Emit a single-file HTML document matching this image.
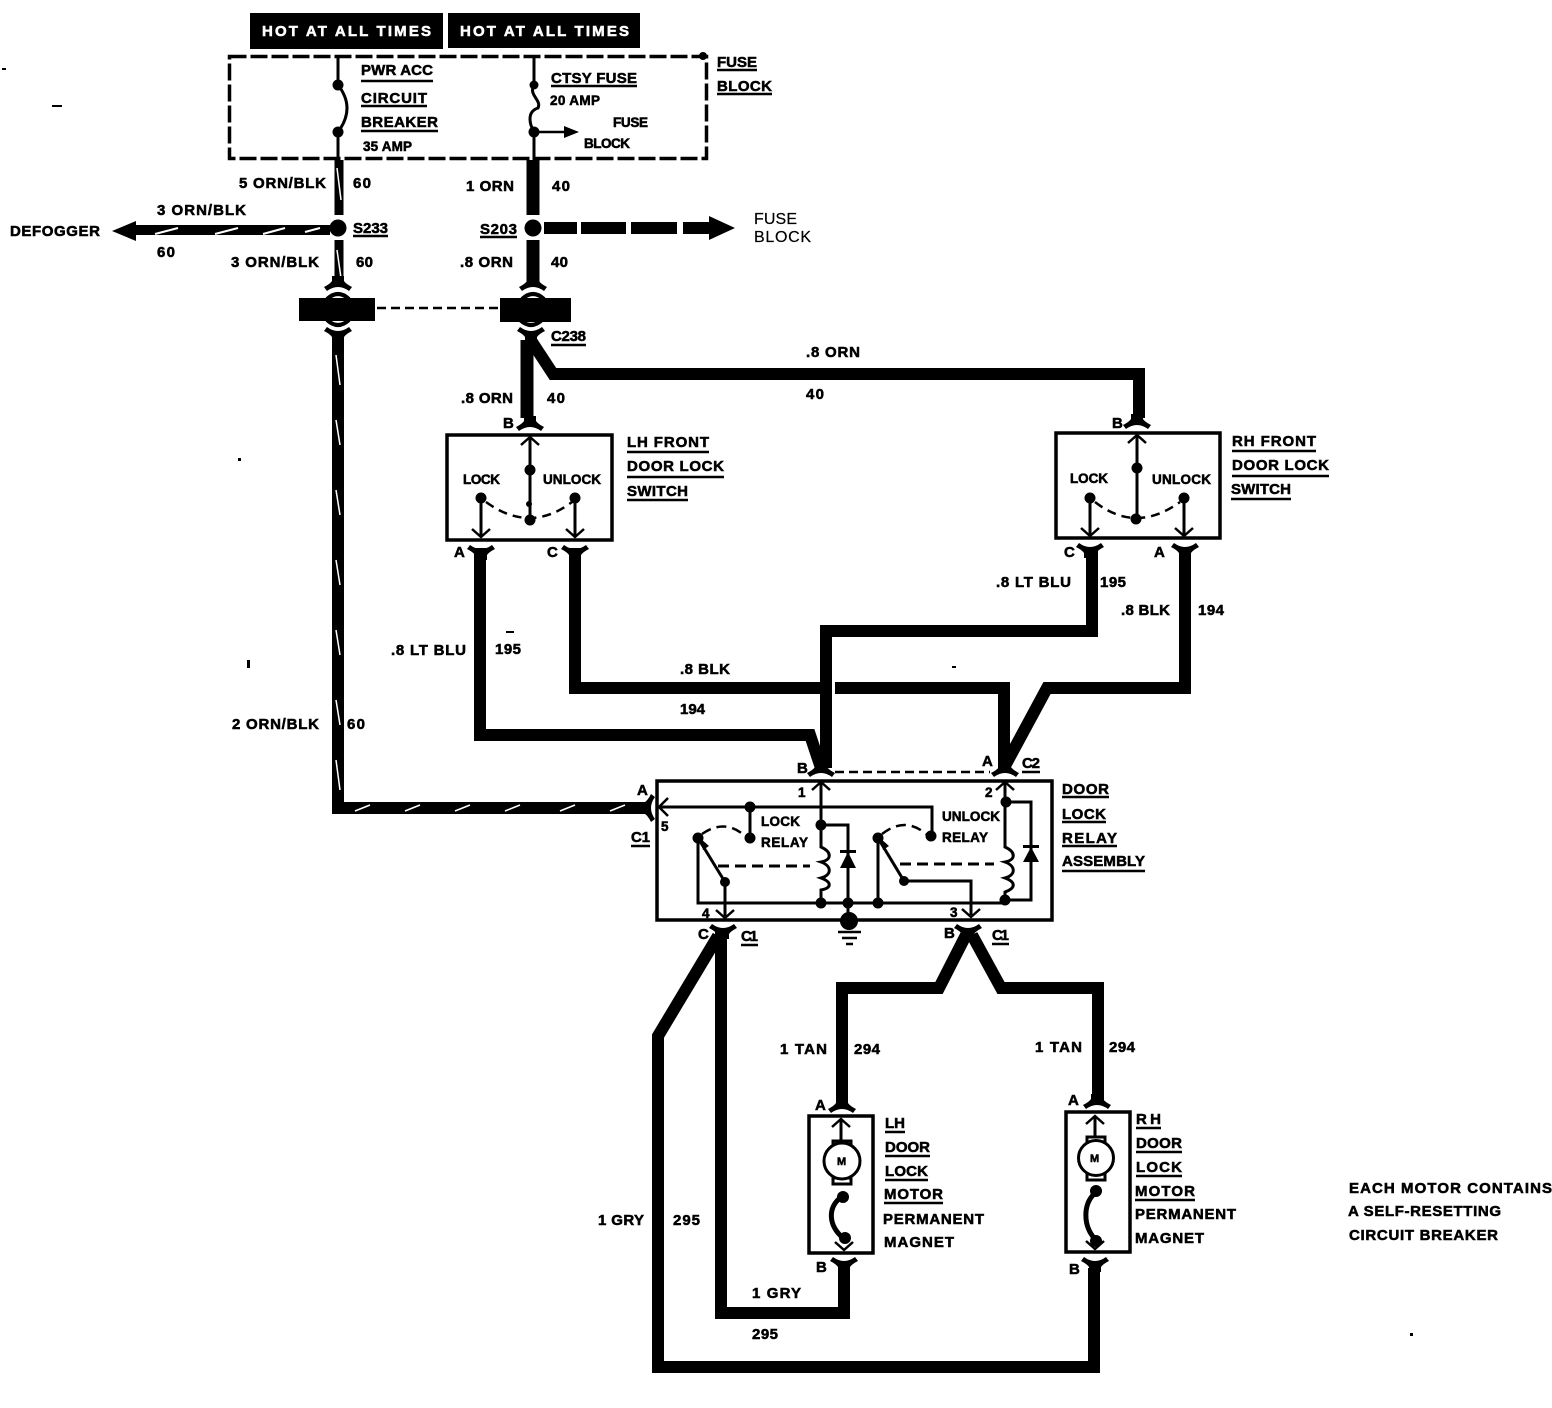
<!DOCTYPE html>
<html><head><meta charset="utf-8"><title>Door lock wiring diagram</title>
<style>
html,body{margin:0;padding:0;background:#fff}
svg{display:block}
text{font-family:"Liberation Sans",sans-serif;font-weight:700;font-size:15px;fill:#000;stroke:#000;stroke-width:.55}
.s{font-size:13.5px}
.w{fill:#fff;stroke:#fff}
.l{fill:none;stroke:#000;stroke-width:3}
.c{fill:none;stroke:#000;stroke-width:5}
.u{fill:none;stroke:#000;stroke-width:2.5}
.i{fill:none;stroke:#000;stroke-width:3}
.n{fill:#000;stroke:none}
</style></head><body>
<svg width="1552" height="1408" viewBox="0 0 1552 1408" xmlns="http://www.w3.org/2000/svg">
<defs>
<path id="capd" d="M-6,-8H6V-3Q8,0 14,3L11,7Q0,-1 -11,7L-14,3Q-8,0 -6,-3Z" fill="#000"/>
<path id="capu" d="M-6,8H6V3Q8,0 14,-3L11,-7Q0,1 -11,-7L-14,-3Q-8,0 -6,3Z" fill="#000"/>
<path id="arcd" d="M-11,5Q0,-5 11,5" fill="none" stroke="#000" stroke-width="4"/>
<path id="arcu" d="M-11,-5Q0,5 11,-5" fill="none" stroke="#000" stroke-width="4"/>
<g id="au"><path d="M-9,8 L0,0 L9,8" fill="none" stroke="#000" stroke-width="2.5"/></g>
<g id="ad"><path d="M-9,-8 L0,0 L9,-8" fill="none" stroke="#000" stroke-width="2.5"/></g>
</defs>
<rect x="250" y="13" width="193" height="36" fill="#000"/>
<rect x="448" y="13" width="192" height="35" fill="#000"/>
<text class="w" x="262" y="36" textLength="169">HOT AT ALL TIMES</text>
<text class="w" x="460" y="36" textLength="169">HOT AT ALL TIMES</text>

<!-- fuse block -->
<rect x="229.5" y="56.5" width="477" height="102" fill="none" stroke="#000" stroke-width="3.5" stroke-dasharray="17 4"/>
<path class="l" d="M338,56V85Q356,108 338,132V160M534,56V85C528,95 542,100 538,108C526,112 530,125 534,132V160"/>
<circle class="n" cx="338" cy="85" r="5.5"/><circle class="n" cx="338" cy="132" r="5.5"/>
<circle class="n" cx="534" cy="85" r="4.5"/><circle class="n" cx="534" cy="132" r="5.5"/>
<path class="u" d="M534,132H566"/><path class="n" d="M564,126L579,132L564,138Z"/>
<circle class="n" cx="703" cy="56" r="4"/>

<!-- top wires -->
<path fill="none" stroke="#000" stroke-width="9" d="M339,160V215M339,240V282"/>
<path fill="none" stroke="#000" stroke-width="13" d="M533,160V215M533,240V282"/>
<path stroke="#fff" stroke-width="1.5" d="M337,168L341,200M337,250L341,278"/>
<path fill="none" stroke="#000" stroke-width="10" d="M135,230H330"/>
<path stroke="#fff" stroke-width="2" d="M155,234L178,228M215,234L238,228M263,234L285,228M305,232L320,228"/>
<path class="n" d="M112,231L136,221V241Z"/>
<circle class="n" cx="338" cy="228" r="8.5"/><circle class="n" cx="533" cy="228" r="8.5"/>
<path fill="none" stroke="#000" stroke-width="12" d="M544,228H577M581,228H626M631,228H677M683,228H712"/>
<path class="n" d="M709,216L735,228L709,240Z"/>

<!-- connector -->
<use href="#capd" x="338" y="284"/><use href="#arcd" x="338" y="294"/>
<use href="#capd" x="533" y="284"/><use href="#arcd" x="533" y="294"/>
<rect x="299" y="298" width="76" height="23" fill="#000"/>
<rect x="500" y="298" width="71" height="24" fill="#000"/>
<path class="u" stroke-dasharray="9 5" d="M377,308H499"/>
<use href="#arcu" x="338" y="325"/><use href="#capu" x="338" y="334"/>
<use href="#arcu" x="531" y="325"/><use href="#capu" x="531" y="334"/>

<!-- main wires -->
<g fill="none" stroke="#000" stroke-linejoin="miter">
<path stroke-width="12" d="M338,340V808H650"/>
<path stroke-width="13" d="M527,340V418"/>
<path stroke-width="12" d="M532,342L553,374H1139V418"/>
<path stroke-width="12" d="M480,548V735H810L821,768"/>
<path stroke-width="12" d="M1092,548V631H826V768"/>
<path stroke-width="12" d="M575,548V688H820M835,688H1004V768"/>
<path stroke-width="12" d="M1185,548V688H1047L1006,764"/>
<path stroke-width="12" d="M721,932V1313H844V1268"/>
<path stroke-width="12" d="M718,936L658,1036V1367H1094V1268"/>
<path stroke-width="12" d="M966,935L939,988H842V1100"/>
<path stroke-width="12" d="M972,935L1001,988H1098V1100"/>
</g>
<path stroke="#fff" stroke-width="1.5" d="M336,355L340,385M336,420L340,445M336,490L340,515M336,560L340,585M336,630L340,655M336,700L340,725M336,760L340,790"/>
<path stroke="#fff" stroke-width="1.5" d="M355,811L370,805M405,811L420,805M455,811L470,805M505,811L520,805M560,811L575,805M610,811L625,805"/>

<!-- LH switch -->
<rect x="447" y="435" width="165" height="105" fill="none" stroke="#000" stroke-width="3.5"/>
<use href="#capd" x="530" y="424"/><use href="#capu" x="481" y="552"/><use href="#capu" x="575" y="552"/>
<use href="#au" x="530" y="437"/>
<path class="l" d="M530,437V518M481,498V536M575,498V536"/>
<use href="#ad" x="481" y="537"/><use href="#ad" x="575" y="537"/>
<circle class="n" cx="530" cy="470" r="5.5"/><circle class="n" cx="530" cy="520" r="5.5"/><circle class="n" cx="529" cy="504" r="3"/>
<circle class="n" cx="481" cy="498" r="5.5"/><circle class="n" cx="575" cy="498" r="5.5"/>
<path class="u" stroke-dasharray="9 6" d="M486,502Q530,534 572,502"/>

<!-- RH switch -->
<rect x="1056" y="433" width="164" height="105" fill="none" stroke="#000" stroke-width="3.5"/>
<use href="#capd" x="1137" y="422"/><use href="#capu" x="1090" y="550"/><use href="#capu" x="1185" y="550"/>
<use href="#au" x="1137" y="435"/>
<path class="l" d="M1137,435V518M1090,498V535M1184,498V535"/>
<use href="#ad" x="1090" y="536"/><use href="#ad" x="1184" y="536"/>
<circle class="n" cx="1137" cy="468" r="5.5"/><circle class="n" cx="1136" cy="519" r="5.5"/>
<circle class="n" cx="1090" cy="498" r="5.5"/><circle class="n" cx="1184" cy="498" r="5.5"/>
<path class="u" stroke-dasharray="9 6" d="M1095,502Q1136,534 1180,502"/>

<!-- relay -->
<rect x="657" y="781" width="395" height="139" fill="none" stroke="#000" stroke-width="3.5"/>
<use href="#capu" x="821" y="770" transform="rotate(180 821 770)"/><use href="#capu" x="1005" y="770" transform="rotate(180 1005 770)"/>
<path class="u" stroke-dasharray="9 5" d="M835,772H990"/>
<use href="#capd" x="640" y="808" transform="rotate(-90 640 808) translate(0 8)"/>
<path d="M668,798L659,807L668,816" fill="none" stroke="#000" stroke-width="2.5"/>
<use href="#au" x="821" y="782"/><use href="#au" x="1005" y="782"/>
<path class="i" d="M660,807H932V832M750,807V838"/>
<circle class="n" cx="750" cy="807" r="5.5"/><circle class="n" cx="750" cy="838" r="5.5"/><circle class="n" cx="931" cy="836" r="5.5"/>
<circle class="n" cx="698" cy="838" r="5.5"/><circle class="n" cx="878" cy="838" r="5.5"/>
<path class="u" stroke-dasharray="10 6" d="M702,834Q725,818 745,836M882,834Q905,816 926,834"/>
<path class="i" d="M698,838V903H1005M698,838L725,882V916M878,838V903M878,838L904,881H971V915"/>
<path class="n" d="M700,838L709,846L703,850Z"/>
<path class="n" d="M880,838L889,846L883,850Z"/>
<use href="#ad" x="725" y="918"/><use href="#ad" x="971" y="917"/>
<circle class="n" cx="725" cy="882" r="5"/><circle class="n" cx="904" cy="881" r="5"/>
<path class="i" stroke-dasharray="11 6" d="M718,866H810M900,864H994"/>
<path class="i" d="M821,782V847C832,852 832,860 821,862C832,866 832,875 821,878C832,882 832,888 821,890V903M821,825H848V903"/>
<path class="n" d="M840,868L848,852L856,868Z"/><rect x="840" y="850" width="16" height="3"/>
<path class="i" d="M1005,782V847C1016,852 1016,860 1005,862C1016,866 1016,875 1005,878C1016,882 1016,888 1005,892V900H1031V802H1005"/>
<path class="n" d="M1023,862H1039L1031,847Z"/><rect x="1023" y="845" width="16" height="3"/>
<circle class="n" cx="821" cy="825" r="5.5"/><circle class="n" cx="821" cy="903" r="5.5"/><circle class="n" cx="848" cy="903" r="5.5"/><circle class="n" cx="878" cy="903" r="5.5"/><circle class="n" cx="1005" cy="900" r="5.5"/><circle class="n" cx="1006" cy="802" r="5.5"/>
<path class="i" d="M848,903V920"/>
<circle class="n" cx="849" cy="921" r="9"/>
<path class="u" d="M838,932H861M842,938H857M846,944H853"/>
<use href="#capd" x="723" y="931" transform="rotate(180 723 931)"/><use href="#capu" x="968" y="931"/>

<!-- LH motor -->
<use href="#capd" x="842" y="1106"/><use href="#capu" x="844" y="1264"/>
<rect x="809" y="1116" width="64" height="137" fill="none" stroke="#000" stroke-width="3.5"/>
<use href="#au" x="841" y="1119"/>
<path class="l" d="M841,1119V1141"/>
<rect x="833" y="1141" width="18" height="6" fill="#fff" stroke="#000" stroke-width="3"/>
<rect x="833" y="1178" width="18" height="6" fill="#fff" stroke="#000" stroke-width="3"/>
<circle cx="842" cy="1161" r="18" fill="#fff" stroke="#000" stroke-width="3"/>
<circle class="n" cx="843" cy="1197" r="6"/><circle class="n" cx="845" cy="1238" r="6"/>
<path class="c" d="M840,1198C828,1208 828,1225 843,1238"/>
<use href="#ad" x="844" y="1250"/>

<!-- RH motor -->
<use href="#capd" x="1097" y="1102"/><use href="#capu" x="1095" y="1264"/>
<rect x="1066" y="1112" width="64" height="140" fill="none" stroke="#000" stroke-width="3.5"/>
<use href="#au" x="1095" y="1116"/>
<path class="l" d="M1095,1116V1137"/>
<rect x="1087" y="1137" width="18" height="6" fill="#fff" stroke="#000" stroke-width="3"/>
<rect x="1087" y="1174" width="18" height="6" fill="#fff" stroke="#000" stroke-width="3"/>
<circle cx="1096" cy="1158" r="17.5" fill="#fff" stroke="#000" stroke-width="3"/>
<circle class="n" cx="1096" cy="1191" r="6"/><circle class="n" cx="1096" cy="1241" r="6"/>
<path class="c" d="M1094,1194C1083,1205 1083,1226 1095,1239"/>
<use href="#ad" x="1095" y="1249"/>

<!-- labels -->
<text x="361" y="75" textLength="72">PWR ACC</text>
<text x="361" y="103" textLength="66">CIRCUIT</text>
<text x="361" y="127" textLength="77">BREAKER</text>
<text class="s" x="363" y="151" textLength="49">35 AMP</text>
<text x="551" y="83" textLength="86">CTSY FUSE</text>
<text class="s" x="550" y="105" textLength="50">20 AMP</text>
<text class="s" x="613" y="127" textLength="35">FUSE</text>
<text class="s" x="584" y="148" textLength="46">BLOCK</text>
<text x="717" y="67" textLength="40">FUSE</text>
<text x="717" y="91" textLength="55">BLOCK</text>
<path class="u" d="M361,81H433M361,106H427M361,131H438M551,86H637M717,70H757M717,94H772M353,236H388M480,237H517M551,345H586M627,452H709M627,477H724M627,500H688M1232,451H1316M1232,476H1329M1231,499H1291M1022,772H1040M631,846H650M1062,797H1109M1062,822H1106M1062,846H1117M1062,871H1145M741,945H758M992,944H1009M885,1132H905M885,1156H930M885,1180H928M884,1203H943M1136,1128H1161M1136,1152H1182M1136,1176H1182M1135,1200H1195"/>

<text x="239" y="188" textLength="87">5 ORN/BLK</text><text x="353" y="188" textLength="18">60</text>
<text x="157" y="215" textLength="89">3 ORN/BLK</text><text x="157" y="257" textLength="18">60</text>
<text x="10" y="236" textLength="90">DEFOGGER</text>
<text x="353" y="233" textLength="35">S233</text><text x="480" y="234" textLength="37">S203</text>
<text x="466" y="191" textLength="48">1 ORN</text><text x="552" y="191" textLength="18">40</text>
<text x="754" y="224" textLength="43" style="stroke-width:.2;font-size:16px;font-weight:400">FUSE</text><text x="754" y="242" textLength="57" style="stroke-width:.2;font-size:16px;font-weight:400">BLOCK</text>
<text x="231" y="267" textLength="88">3 ORN/BLK</text><text x="356" y="267" textLength="17">60</text>
<text x="460" y="267" textLength="53">.8 ORN</text><text x="551" y="267" textLength="17">40</text>
<text x="551" y="341" textLength="35">C238</text>
<text x="806" y="357" textLength="54">.8 ORN</text><text x="806" y="399" textLength="18">40</text>
<text x="461" y="403" textLength="52">.8 ORN</text><text x="547" y="403" textLength="18">40</text>
<text x="503" y="428" textLength="9">B</text><text x="1112" y="428" textLength="9">B</text>
<text x="627" y="447" textLength="82">LH FRONT</text><text x="627" y="471" textLength="97">DOOR LOCK</text><text x="627" y="496" textLength="61">SWITCH</text>
<text x="1232" y="446" textLength="84">RH FRONT</text><text x="1232" y="470" textLength="97">DOOR LOCK</text><text x="1231" y="494" textLength="60">SWITCH</text>
<text class="s" x="463" y="484" textLength="37">LOCK</text><text class="s" x="543" y="484" textLength="58">UNLOCK</text>
<text class="s" x="1070" y="483" textLength="38">LOCK</text><text class="s" x="1152" y="484" textLength="59">UNLOCK</text>
<text x="454" y="557" textLength="10">A</text><text x="547" y="557" textLength="9">C</text><text x="1064" y="557" textLength="9">C</text><text x="1154" y="557" textLength="11">A</text>
<text x="996" y="587" textLength="75">.8 LT BLU</text><text x="1100" y="587" textLength="26">195</text>
<text x="1121" y="615" textLength="49">.8 BLK</text><text x="1198" y="615" textLength="26">194</text>
<text x="391" y="655" textLength="75">.8 LT BLU</text><text x="495" y="654" textLength="26">195</text>
<text x="680" y="674" textLength="50">.8 BLK</text><text x="680" y="714" textLength="25">194</text>
<text x="232" y="729" textLength="87">2 ORN/BLK</text><text x="347" y="729" textLength="18">60</text>
<text x="797" y="773" textLength="9">B</text><text x="982" y="766" textLength="10">A</text><text x="1022" y="768" textLength="18">C2</text>
<text class="s" x="798" y="797" textLength="6">1</text><text class="s" x="985" y="797" textLength="6">2</text>
<text x="637" y="795" textLength="11">A</text><text class="s" x="661" y="831" textLength="7">5</text><text x="631" y="842" textLength="19">C1</text>
<text x="1062" y="794" textLength="47">DOOR</text><text x="1062" y="819" textLength="44">LOCK</text><text x="1062" y="843" textLength="55">RELAY</text><text x="1062" y="866" textLength="83">ASSEMBLY</text>
<text class="s" x="761" y="826" textLength="39">LOCK</text><text class="s" x="761" y="847" textLength="47">RELAY</text>
<text class="s" x="942" y="821" textLength="58">UNLOCK</text><text class="s" x="942" y="842" textLength="46">RELAY</text>
<text class="s" x="702" y="918" textLength="8">4</text><text class="s" x="950" y="917" textLength="7">3</text>
<text x="698" y="939" textLength="9">C</text><text x="741" y="941" textLength="17">C1</text><text x="944" y="938" textLength="9">B</text><text x="992" y="940" textLength="17">C1</text>
<text x="780" y="1054" textLength="47">1 TAN</text><text x="854" y="1054" textLength="26">294</text>
<text x="1035" y="1052" textLength="47">1 TAN</text><text x="1109" y="1052" textLength="26">294</text>
<text x="815" y="1110" textLength="11">A</text><text x="1068" y="1105" textLength="11">A</text>
<text x="885" y="1128" textLength="20">LH</text><text x="885" y="1152" textLength="45">DOOR</text><text x="885" y="1176" textLength="43">LOCK</text><text x="884" y="1199" textLength="59">MOTOR</text><text x="883" y="1224" textLength="101">PERMANENT</text><text x="884" y="1247" textLength="70">MAGNET</text>
<text x="1136" y="1124" textLength="25">RH</text><text x="1136" y="1148" textLength="46">DOOR</text><text x="1136" y="1172" textLength="46">LOCK</text><text x="1135" y="1196" textLength="60">MOTOR</text><text x="1135" y="1219" textLength="101">PERMANENT</text><text x="1135" y="1243" textLength="69">MAGNET</text>
<text x="837" y="1165" textLength="11" style="font-size:11px">M</text><text x="1090" y="1162" textLength="12" style="font-size:11px">M</text>
<text x="816" y="1272" textLength="9">B</text><text x="1069" y="1274" textLength="9">B</text>
<text x="598" y="1225" textLength="46">1 GRY</text><text x="673" y="1225" textLength="27">295</text>
<text x="752" y="1298" textLength="49">1 GRY</text><text x="752" y="1339" textLength="26">295</text>
<text x="1349" y="1193" textLength="203">EACH MOTOR CONTAINS</text>
<text x="1348" y="1216" textLength="153">A SELF-RESETTING</text>
<text x="1349" y="1240" textLength="149">CIRCUIT BREAKER</text>
<path class="n" d="M2,68h4v2h-4zM52,105h10v2h-10zM238,458h3v3h-3zM247,660h3v8h-3zM506,631h8v2h-8zM952,666h4v2h-4zM1410,1333h3v3h-3z"/>
</svg>
</body></html>
